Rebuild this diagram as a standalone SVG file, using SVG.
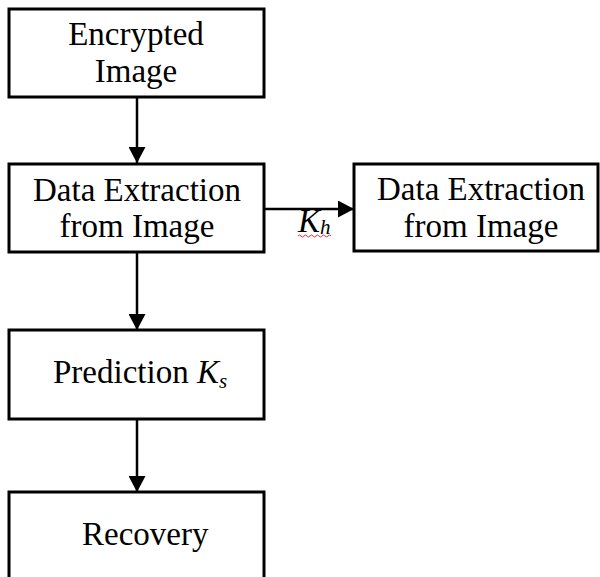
<svg xmlns="http://www.w3.org/2000/svg" width="600" height="577" viewBox="0 0 600 577">
  <style>
    .box { fill: #ffffff; stroke: #000000; stroke-width: 3; }
    .lbl { font-family: "Liberation Serif", "Times New Roman", serif; font-size: 33px; fill: #000000; }
    .mid { text-anchor: middle; }
    .it { font-style: italic; }
    .sub { font-size: 21px; }
    .edge { fill: none; stroke: #000000; stroke-width: 2.5; marker-end: url(#head); }
    .squiggle { fill: none; stroke: #e03030; stroke-width: 1; }
  </style>
  <defs>
    <marker id="head" markerUnits="userSpaceOnUse" markerWidth="17" markerHeight="17" refX="16" refY="8.5" orient="auto">
      <path d="M0,0 L16,8.5 L0,17 Z" fill="#000000"/>
    </marker>
  </defs>
  <rect width="600" height="577" fill="#ffffff"/>

  <g id="connectors">
    <line class="edge" x1="137" y1="97" x2="137" y2="163"/>
    <line class="edge" x1="137" y1="252" x2="137" y2="330"/>
    <line class="edge" x1="137" y1="419" x2="137" y2="492"/>
    <line class="edge" x1="264" y1="209" x2="354" y2="209"/>
    <text class="lbl it" x="298" y="232">K<tspan class="sub" dy="2">h</tspan></text>
    <path class="squiggle" d="M298,236 q1.5,-2 3,0 t3,0 t3,0 t3,0 t3,0 t3,0 t3,0 t3,0 t3,0 t3,0 t3,0"/>
  </g>

  <g id="encrypted-image">
    <rect class="box" x="9" y="9" width="255" height="88"/>
    <text class="lbl mid" x="136" y="45">Encrypted</text>
    <text class="lbl mid" x="136" y="82">Image</text>
  </g>

  <g id="data-extraction-left">
    <rect class="box" x="9" y="164" width="255" height="88"/>
    <text class="lbl mid" x="137" y="201">Data Extraction</text>
    <text class="lbl mid" x="137" y="237">from Image</text>
  </g>

  <g id="data-extraction-right">
    <rect class="box" x="354" y="164" width="244" height="87"/>
    <text class="lbl mid" x="481" y="200">Data Extraction</text>
    <text class="lbl mid" x="481" y="237">from Image</text>
  </g>

  <g id="prediction">
    <rect class="box" x="9" y="330" width="255" height="89"/>
    <text class="lbl" x="53" y="383">Prediction <tspan class="it">K</tspan><tspan class="it sub" dy="5">s</tspan></text>
  </g>

  <g id="recovery">
    <rect class="box" x="9" y="492" width="255" height="110"/>
    <text class="lbl" x="82" y="545">Recovery</text>
  </g>
</svg>
